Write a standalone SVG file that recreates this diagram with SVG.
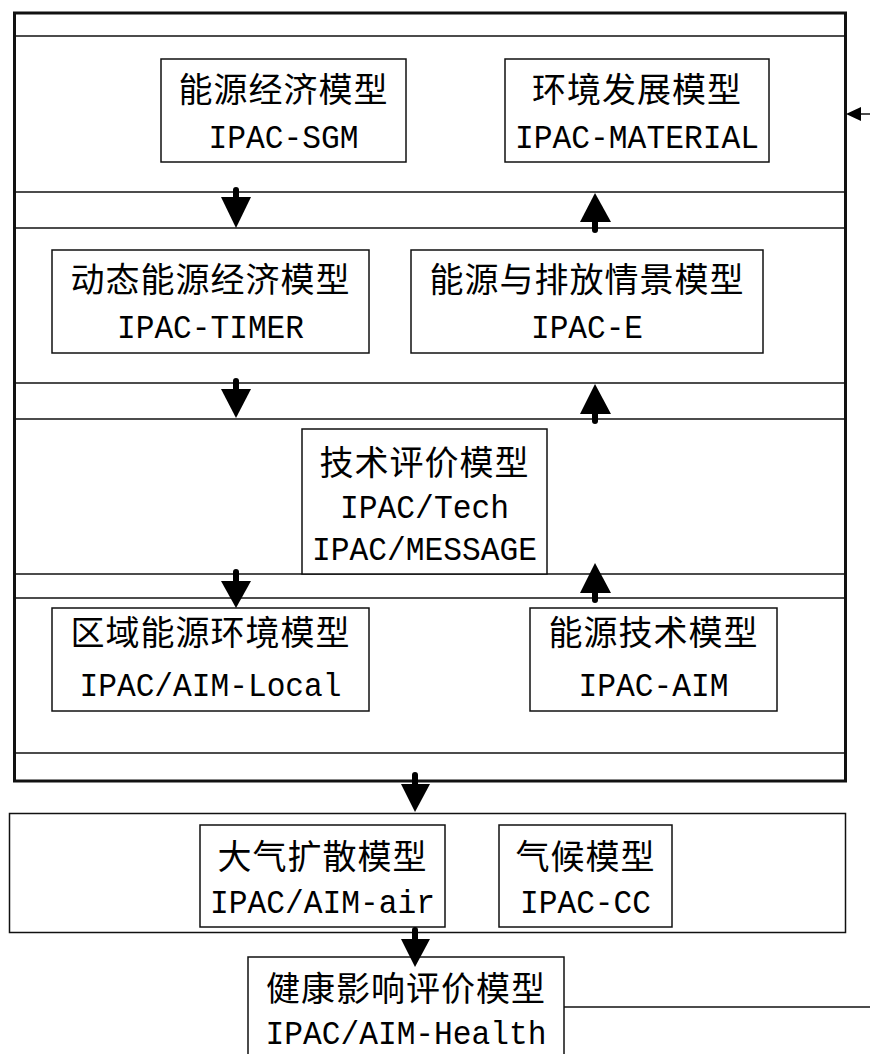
<svg xmlns="http://www.w3.org/2000/svg" width="870" height="1054" viewBox="0 0 870 1054">
<style>
.frame{fill:none;stroke:#111;stroke-width:3}
.sep{stroke:#111;stroke-width:1.5;fill:none}
.box{fill:#fff;stroke:#111;stroke-width:1.5}
.zh{font-family:"Noto Sans CJK SC","Liberation Sans",sans-serif;font-size:34px;letter-spacing:1px;fill:#000;text-anchor:middle}
.en{font-family:"Liberation Mono","DejaVu Sans Mono",monospace;font-size:34px;fill:#000;text-anchor:middle}
.stem{stroke:#000;stroke-width:6;stroke-linecap:round}
.head{fill:#000}
.thin{stroke:#111;stroke-width:1.5;fill:none}
</style>
<rect width="870" height="1054" fill="#fff"/>
<g id="frame">
<rect class="frame" x="14.5" y="13" width="831" height="768"/>
<line class="sep" x1="14.5" y1="36" x2="845.5" y2="36"/>
<line class="sep" x1="14.5" y1="192" x2="845.5" y2="192"/>
<line class="sep" x1="14.5" y1="228" x2="845.5" y2="228"/>
<line class="sep" x1="14.5" y1="383" x2="845.5" y2="383"/>
<line class="sep" x1="14.5" y1="419" x2="845.5" y2="419"/>
<line class="sep" x1="14.5" y1="574" x2="845.5" y2="574"/>
<line class="sep" x1="14.5" y1="598" x2="845.5" y2="598"/>
<line class="sep" x1="14.5" y1="753" x2="845.5" y2="753"/>
</g>
<g id="lower-frame">
<rect class="box" x="9.5" y="813.5" width="836" height="119"/>
</g>
<g id="n-sgm">
<rect class="box" x="161" y="59" width="245" height="103"/>
<text class="zh" x="283.5" y="102">能源经济模型</text>
<text class="en" x="283.5" y="148" textLength="150" lengthAdjust="spacingAndGlyphs">IPAC-SGM</text>
</g>
<g id="n-material">
<rect class="box" x="505" y="59" width="264" height="103"/>
<text class="zh" x="637" y="102">环境发展模型</text>
<text class="en" x="637" y="148" textLength="244" lengthAdjust="spacingAndGlyphs">IPAC-MATERIAL</text>
</g>
<g id="n-timer">
<rect class="box" x="52" y="250" width="317" height="103"/>
<text class="zh" x="210.5" y="292">动态能源经济模型</text>
<text class="en" x="210.5" y="338" textLength="187" lengthAdjust="spacingAndGlyphs">IPAC-TIMER</text>
</g>
<g id="n-e">
<rect class="box" x="411" y="250" width="352" height="103"/>
<text class="zh" x="587" y="292">能源与排放情景模型</text>
<text class="en" x="587" y="338" textLength="112" lengthAdjust="spacingAndGlyphs">IPAC-E</text>
</g>
<g id="n-tech">
<rect class="box" x="302" y="429" width="245" height="145"/>
<text class="zh" x="424.5" y="475">技术评价模型</text>
<text class="en" x="424.5" y="518" textLength="169" lengthAdjust="spacingAndGlyphs">IPAC/Tech</text>
<text class="en" x="424.5" y="560" textLength="225" lengthAdjust="spacingAndGlyphs">IPAC/MESSAGE</text>
</g>
<g id="n-local">
<rect class="box" x="52" y="608" width="317" height="103"/>
<text class="zh" x="210.5" y="645">区域能源环境模型</text>
<text class="en" x="210.5" y="696" textLength="262" lengthAdjust="spacingAndGlyphs">IPAC/AIM-Local</text>
</g>
<g id="n-aim">
<rect class="box" x="530" y="608" width="247" height="103"/>
<text class="zh" x="653.5" y="645">能源技术模型</text>
<text class="en" x="653.5" y="696" textLength="150" lengthAdjust="spacingAndGlyphs">IPAC-AIM</text>
</g>
<g id="n-air">
<rect class="box" x="200" y="825" width="245" height="102"/>
<text class="zh" x="322.5" y="869">大气扩散模型</text>
<text class="en" x="322.5" y="913" textLength="225" lengthAdjust="spacingAndGlyphs">IPAC/AIM-air</text>
</g>
<g id="n-cc">
<rect class="box" x="499" y="825" width="173" height="102"/>
<text class="zh" x="585.5" y="869">气候模型</text>
<text class="en" x="585.5" y="913" textLength="131" lengthAdjust="spacingAndGlyphs">IPAC-CC</text>
</g>
<g id="n-health">
<rect class="box" x="248" y="957" width="316" height="120"/>
<text class="zh" x="406" y="1001">健康影响评价模型</text>
<text class="en" x="406" y="1044" textLength="281" lengthAdjust="spacingAndGlyphs">IPAC/AIM-Health</text>
</g>
<g id="connectors">
<line class="stem" x1="236" y1="190" x2="236" y2="200"/>
<polygon class="head" points="221,197 251,197 236,228"/>
<line class="stem" x1="236" y1="381" x2="236" y2="391"/>
<polygon class="head" points="221,389 251,389 236,418"/>
<line class="stem" x1="236" y1="572" x2="236" y2="583"/>
<polygon class="head" points="221,581 251,581 236,608"/>
<line class="stem" x1="595" y1="230" x2="595" y2="220"/>
<polygon class="head" points="580,222 611,222 595,193"/>
<line class="stem" x1="595" y1="421" x2="595" y2="411"/>
<polygon class="head" points="580,414 611,414 595,384"/>
<line class="stem" x1="595" y1="600" x2="595" y2="590"/>
<polygon class="head" points="580,593 611,593 595,563"/>
<line class="stem" x1="415" y1="775" x2="415" y2="786"/>
<polygon class="head" points="401,784 430,784 415,812"/>
<line class="stem" x1="415" y1="930" x2="415" y2="941"/>
<polygon class="head" points="401,939 430,939 415,967"/>
<line class="thin" x1="870" y1="114" x2="855" y2="114"/>
<polygon class="head" points="846,114 861,107 861,121"/>
<line class="thin" x1="564" y1="1007" x2="870" y2="1007"/>
</g>
</svg>
